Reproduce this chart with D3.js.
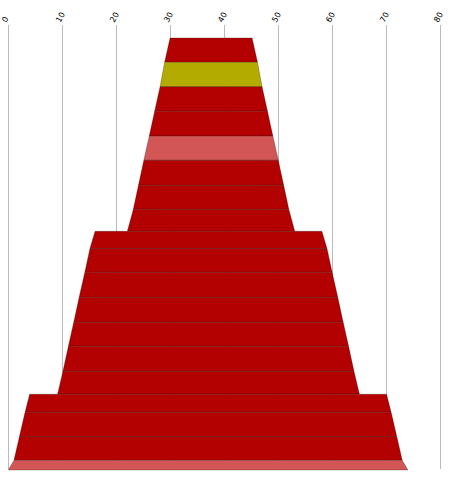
<!DOCTYPE html>
<html>
<head>
<meta charset="utf-8">
<script src="https://cdn.jsdelivr.net/npm/d3@7"></script>
<style>
  body { margin: 0; background: #fff; }
  svg { display: block; }
</style>
</head>
<body>
<div id="place"></div>
<script>
// axis ticks
const ticks = [0, 10, 20, 30, 40, 50, 60, 70, 80];

// band heights (relative), top to bottom
const bandSizes = [24.3, 24.4, 24.6, 24.7, 24.3, 25, 24, 22, 17.2, 23.8, 25, 25, 24, 25, 22.9, 18.1, 24.4, 23.6, 9.7];
// width of each band at its top and bottom edge (axis units)
const topWidths = [15.2, 17.2, 18.9, 20.9, 22.9, 24.9, 26.9, 28.8, 42.0, 43.9, 45.8, 47.9, 49.9, 51.9, 53.9, 66.1, 67.8, 69.9, 71.9];
const bottomWidths = [17.2, 18.9, 20.9, 22.9, 24.9, 26.9, 28.8, 31.0, 43.9, 45.8, 47.9, 49.9, 51.9, 53.9, 55.9, 67.8, 69.9, 71.9, 74.0];
// middle of each band on the axis
const centers = [37.55, 37.55, 37.55, 37.55, 37.55, 37.55, 37.55, 37.55, 37.07, 37.07, 37.07, 37.07, 37.07, 37.07, 37.07, 37.0, 37.0, 37.0, 37.0];
// colour group per band
const groups = ["a", "b", "a", "a", "c", "a", "a", "a", "a", "a", "a", "a", "a", "a", "a", "a", "a", "a", "c"];

const width = 452, height = 477;

const svg = d3.select("#place").append("svg")
    .attr("width", width)
    .attr("height", height);

const x = d3.scaleLinear().domain([0, 80]).range([8.3, 440.3]);

const cum = [0];
bandSizes.forEach((s, i) => cum.push(cum[i] + s));
const y = d3.scaleLinear().domain([0, d3.sum(bandSizes)]).range([38, 470]);

const color = d3.scaleOrdinal().domain(["a", "b", "c"]).range(["#b30000", "#b3ab00", "#d35656"]);

// grid
svg.append("g").selectAll("line")
    .data(ticks).enter()
    .append("line")
    .attr("x1", d => x(d)).attr("x2", d => x(d))
    .attr("y1", 25).attr("y2", 469)
    .attr("stroke", "#bbb")
    .attr("shape-rendering", "crispEdges");

// tick labels
svg.append("g").selectAll("text")
    .data(ticks).enter()
    .append("text")
    .attr("transform", d => "translate(" + (x(d) - 2) + ",23) rotate(-60)")
    .attr("font-family", "DejaVu Sans, sans-serif")
    .attr("font-size", 8)
    .attr("fill", "#000")
    .text(d => d);

// bands
const bands = bandSizes.map((s, i) => ({
    y0: cum[i], y1: cum[i + 1],
    wt: topWidths[i], wb: bottomWidths[i], c: centers[i], g: groups[i]
}));

svg.append("g").selectAll("path")
    .data(bands).enter()
    .append("path")
    .attr("d", d => {
        const pts = [
            [x(d.c - d.wt / 2), y(d.y0)],
            [x(d.c + d.wt / 2), y(d.y0)],
            [x(d.c + d.wb / 2), y(d.y1)],
            [x(d.c - d.wb / 2), y(d.y1)]
        ];
        return "M" + pts.join("L") + "Z";
    })
    .attr("fill", d => color(d.g))
    .attr("stroke", "rgba(0,0,0,0.3)")
    .attr("stroke-width", 0.8);
</script>
</body>
</html>
